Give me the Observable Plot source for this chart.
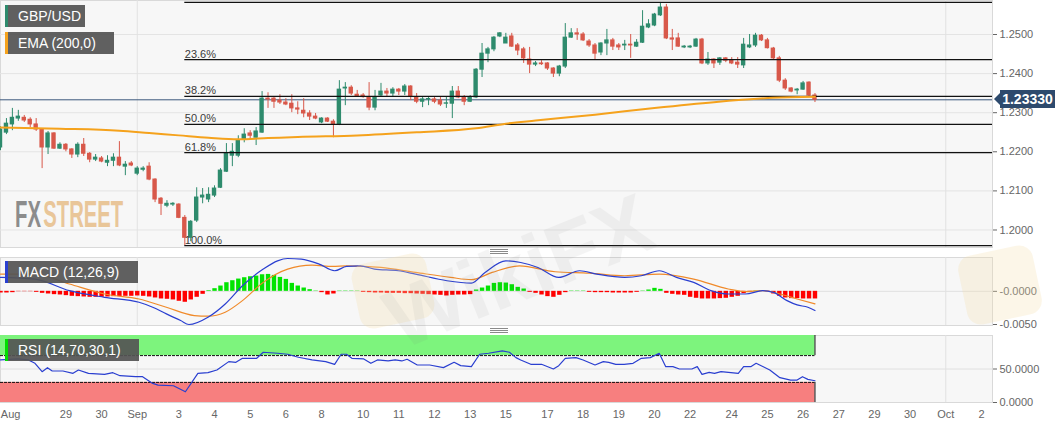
<!DOCTYPE html>
<html><head><meta charset="utf-8">
<script src="https://cdn.jsdelivr.net/npm/d3@7"></script>
<script src="https://cdn.jsdelivr.net/npm/@observablehq/plot@0.6"></script>
<style>
body{margin:0;background:#fff;font-family:"Liberation Sans",Arial,sans-serif;}
#wrap{position:relative;width:1063px;height:429px;overflow:hidden;background:#fff;}
.panel{position:absolute;left:0;}
.tag{position:absolute;left:5px;height:22px;line-height:22px;background:rgba(84,84,84,0.93);color:#fff;font-size:14px;padding-left:13px;box-sizing:border-box;white-space:nowrap;}
.tag i{position:absolute;left:0;top:0;bottom:0;width:3px;}
.handle{position:absolute;width:18px;height:1px;background:#8a8a8a;box-shadow:0 2px 0 #8a8a8a,0 4px 0 #8a8a8a;}
#price{position:absolute;left:1000px;width:55px;height:18px;line-height:18px;background:#2d4a6d;color:#fff;font-weight:bold;font-size:14px;text-align:center;}
#price:before{content:"";position:absolute;left:-6px;top:3px;border-top:6px solid transparent;border-bottom:6px solid transparent;border-right:6px solid #2d4a6d;}
</style></head>
<body><div id="wrap"></div>
<script>
// ---------- data (4-hour candles, index 0 = first visible) ----------
const candleOpen = [
1.2211,1.2249,1.2270,1.2285,1.2287,1.2282,1.2270,1.2257,1.2211,1.2247,
1.2208,1.2218,1.2206,1.2193,1.2218,1.2195,1.2180,1.2183,1.2172,1.2177,
1.2185,1.2162,1.2170,1.2144,1.2154,1.2162,1.2129,1.2080,1.2062,1.2065,
1.2065,1.2031,1.1980,1.2024,1.2083,1.2078,1.2088,1.2108,1.2149,1.2190,
1.2190,1.2231,1.2247,1.2236,1.2249,1.2336,1.2336,1.2331,1.2326,1.2323,
1.2311,1.2305,1.2298,1.2290,1.2275,1.2285,1.2277,1.2270,1.2362,1.2364,
1.2346,1.2344,1.2339,1.2313,1.2344,1.2354,1.2349,1.2359,1.2354,1.2367,
1.2339,1.2328,1.2334,1.2334,1.2331,1.2323,1.2323,1.2354,1.2339,1.2328,
1.2339,1.2410,1.2451,1.2462,1.2495,1.2477,1.2495,1.2472,1.2462,1.2436,
1.2423,1.2426,1.2426,1.2413,1.2400,1.2418,1.2492,1.2503,1.2500,1.2482,
1.2472,1.2454,1.2477,1.2485,1.2472,1.2472,1.2474,1.2469,1.2479,1.2518,
1.2523,1.2549,1.2569,1.2490,1.2490,1.2467,1.2467,1.2469,1.2487,1.2426,
1.2436,1.2428,1.2439,1.2433,1.2428,1.2421,1.2467,1.2472,1.2497,1.2485,
1.2464,1.2439,1.2382,1.2362,1.2357,1.2359,1.2377,1.2344];
const candleHigh = [
1.2264,1.2285,1.2311,1.2306,1.2293,1.2287,1.2285,1.2259,1.2252,1.2249,
1.2223,1.2221,1.2208,1.2223,1.2234,1.2198,1.2193,1.2188,1.2190,1.2195,
1.2226,1.2175,1.2175,1.2162,1.2162,1.2172,1.2131,1.2083,1.2075,1.2070,
1.2067,1.2037,1.2024,1.2108,1.2106,1.2108,1.2113,1.2157,1.2221,1.2221,
1.2241,1.2259,1.2254,1.2262,1.2354,1.2351,1.2341,1.2346,1.2336,1.2346,
1.2328,1.2336,1.2305,1.2298,1.2287,1.2287,1.2282,1.2382,1.2377,1.2369,
1.2357,1.2349,1.2377,1.2357,1.2375,1.2362,1.2364,1.2362,1.2372,1.2369,
1.2349,1.2339,1.2339,1.2339,1.2339,1.2339,1.2367,1.2367,1.2344,1.2344,
1.2413,1.2477,1.2467,1.2495,1.2505,1.2503,1.2503,1.2477,1.2467,1.2467,
1.2431,1.2433,1.2428,1.2415,1.2421,1.2528,1.2515,1.2515,1.2505,1.2487,
1.2477,1.2479,1.2513,1.2490,1.2477,1.2485,1.2500,1.2487,1.2561,1.2538,
1.2554,1.2582,1.2577,1.2513,1.2503,1.2472,1.2472,1.2490,1.2490,1.2454,
1.2438,1.2441,1.2441,1.2441,1.2441,1.2490,1.2500,1.2503,1.2500,1.2490,
1.2467,1.2444,1.2387,1.2364,1.2362,1.2380,1.2379,1.2349];
const candleLow = [
1.2203,1.2244,1.2254,1.2278,1.2275,1.2262,1.2252,1.2157,1.2193,1.2206,
1.2206,1.2200,1.2183,1.2185,1.2188,1.2172,1.2175,1.2172,1.2162,1.2162,
1.2162,1.2139,1.2162,1.2139,1.2149,1.2126,1.2070,1.2037,1.2057,1.2060,
1.2029,1.1960,1.1970,1.2019,1.2067,1.2070,1.2083,1.2106,1.2147,1.2162,
1.2185,1.2223,1.2229,1.2216,1.2247,1.2311,1.2311,1.2321,1.2318,1.2300,
1.2295,1.2287,1.2280,1.2282,1.2272,1.2275,1.2236,1.2267,1.2318,1.2344,
1.2339,1.2337,1.2305,1.2305,1.2339,1.2339,1.2339,1.2344,1.2344,1.2331,
1.2323,1.2313,1.2318,1.2323,1.2316,1.2311,1.2285,1.2336,1.2318,1.2326,
1.2336,1.2390,1.2428,1.2456,1.2492,1.2477,1.2467,1.2446,1.2426,1.2400,
1.2418,1.2421,1.2408,1.2390,1.2392,1.2413,1.2490,1.2485,1.2482,1.2467,
1.2436,1.2446,1.2446,1.2459,1.2459,1.2459,1.2439,1.2467,1.2477,1.2515,
1.2520,1.2546,1.2487,1.2459,1.2467,1.2464,1.2464,1.2467,1.2423,1.2421,
1.2413,1.2421,1.2428,1.2423,1.2413,1.2413,1.2464,1.2467,1.2482,1.2463,
1.2436,1.2377,1.2357,1.2351,1.2346,1.2357,1.2341,1.2326];
const candleClose = [
1.2257,1.2272,1.2287,1.2290,1.2280,1.2270,1.2257,1.2211,1.2247,1.2208,
1.2218,1.2206,1.2193,1.2218,1.2195,1.2180,1.2185,1.2175,1.2177,1.2185,
1.2165,1.2167,1.2165,1.2157,1.2157,1.2129,1.2078,1.2067,1.2067,1.2067,
1.2031,1.1980,1.2021,1.2083,1.2088,1.2090,1.2106,1.2152,1.2195,1.2200,
1.2229,1.2244,1.2241,1.2252,1.2336,1.2334,1.2328,1.2326,1.2321,1.2311,
1.2308,1.2298,1.2290,1.2285,1.2285,1.2277,1.2270,1.2359,1.2364,1.2349,
1.2341,1.2340,1.2313,1.2339,1.2354,1.2349,1.2359,1.2354,1.2367,1.2341,
1.2328,1.2334,1.2335,1.2328,1.2321,1.2324,1.2354,1.2339,1.2328,1.2339,
1.2410,1.2451,1.2462,1.2492,1.2503,1.2492,1.2469,1.2459,1.2439,1.2423,
1.2426,1.2424,1.2413,1.2400,1.2418,1.2492,1.2503,1.2500,1.2485,1.2472,
1.2451,1.2477,1.2485,1.2469,1.2467,1.2474,1.2472,1.2479,1.2520,1.2526,
1.2551,1.2569,1.2490,1.2487,1.2469,1.2469,1.2469,1.2487,1.2426,1.2436,
1.2426,1.2439,1.2433,1.2426,1.2423,1.2474,1.2472,1.2497,1.2485,1.2465,
1.2439,1.2382,1.2362,1.2354,1.2359,1.2375,1.2344,1.2333];

// EMA(200) read at sample candles
const emaIdx = [0,10,20,25,30,35,40,45,50,60,70,80,85,90,100,110,120,130,137];
const emaVal = [1.2262,1.2259,1.2254,1.2248,1.2242,1.2236,1.2232,1.2235,1.2238,1.2242,1.2250,1.2260,1.2272,1.2280,1.2295,1.2312,1.2327,1.2338,1.2341];

// Fibonacci retracement
const fibNames  = ["0.0%","23.6%","38.2%","50.0%","61.8%","100.0%"];
const fibLevels = [1.2582,1.2436,1.2342,1.2270,1.2198,1.1960];
const fibStartIdx = 31;

const priceTicks = [1.20,1.21,1.22,1.23,1.24,1.25];

// x-axis labels (candle index where each label sits)
const tickLabels = ["Aug","29","30","Sep","3","4","5","6","8","10","11","12","13","15","17","18","19","20","22","24","25","26","27","29","30","Oct","2"];
const tickIdx    = [1.7,11,17,23,30,36,42,48,54,61,67,73,79,85,92,98,104,110,116,123,129,135,141,147,153,159,165];
const monthIdx   = [23,159];

// MACD (12,26,9)
const macdHist = [
-0.00025,-0.00025,-0.0002,-0.00005,-0.00005,-0.00005,-0.00015,-0.0003,-0.0004,-0.0005,
-0.00055,-0.00065,-0.00075,-0.0008,-0.00085,-0.0009,-0.0009,-0.0009,-0.00085,-0.0008,
-0.0008,-0.00075,-0.00075,-0.0007,-0.00075,-0.00085,-0.001,-0.00115,-0.0012,-0.0013,
-0.0015,-0.00165,-0.0013,-0.0009,-0.00045,0.0001,0.0004,0.0008,0.0013,0.0016,
0.00185,0.00205,0.0022,0.0023,0.0025,0.00255,0.0024,0.0021,0.0018,0.0012,
0.0008,0.0005,0.00025,0.00005,-0.0002,-0.00055,-0.0004,0.00005,0.00005,0.00005,
0.00005,-0.00015,-0.0002,-0.00025,-0.00025,-0.0003,-0.0003,-0.0003,-0.00035,-0.00035,
-0.0004,-0.00045,-0.0005,-0.00055,-0.0006,-0.0007,-0.0006,-0.00055,-0.00055,-0.0005,
0.0002,0.0005,0.0008,0.0012,0.0013,0.00125,0.001,0.0006,0.00035,-0.00015,
-0.0003,-0.00055,-0.0008,-0.0009,-0.0006,-0.0002,0.00005,0.00005,0.00005,-0.00015,
-0.0002,-0.0002,-0.0002,-0.00025,-0.00025,-0.00025,-0.00025,-0.00015,0.00005,0.0002,
0.00045,0.0003,-0.0003,-0.00045,-0.00055,-0.0006,-0.0009,-0.00105,-0.00115,-0.00115,
-0.00115,-0.0011,-0.00105,-0.0009,-0.00075,-0.00035,-0.00015,0.00005,0.00005,-0.00005,
-0.0004,-0.00075,-0.001,-0.0011,-0.0011,-0.00115,-0.00115,-0.00115];
const macdIdx = [0,5.8,11.6,17.5,23.3,25.6,27.9,30.3,31.7,34.9,37.8,40.7,44.2,46.6,48.3,50.6,53.6,56.2,58.2,60.5,62.9,66.9,69.8,75.1,79.2,81.5,85,87.5,90.4,93.9,97.4,100.3,105,107.8,110.8,113.7,116.6,119.5,122.4,125.3,128.2,130,132.3,134,135.8,137];
const macdVal = [0.0021,0.00185,0.0001,-0.0009,-0.00165,-0.0024,-0.0034,-0.0044,-0.0050,-0.0039,-0.0019,0.00085,0.00335,0.0046,0.00495,0.00485,0.0041,0.0031,0.00375,0.00385,0.00335,0.0031,0.0026,0.0016,0.00125,0.00285,0.0046,0.00435,0.0036,0.0021,0.0031,0.0026,0.0021,0.00235,0.0031,0.0021,0.00135,0.0001,-0.0004,-0.0004,0.0001,-0.00015,-0.0014,-0.00205,-0.0024,-0.0029];
const sigIdx = [0,5.8,11.6,17.5,23.3,27.9,32.6,34.9,37.8,40.7,44.2,48.3,52.4,55.9,58.2,64,69.8,75.7,79.2,82.7,87.3,93.3,99.1,105,110.8,116.6,122.4,125.3,128.2,131.1,134,137];
const sigVal = [0.0026,0.0026,0.0011,-0.0004,-0.00115,-0.0024,-0.00365,-0.00375,-0.00315,-0.0014,0.00135,0.00335,0.00395,0.00375,0.00385,0.0036,0.00285,0.0021,0.00175,0.00285,0.00385,0.00295,0.00275,0.00235,0.0026,0.00185,0.00035,-0.00005,0.0001,-0.0004,-0.00115,-0.0019];
const macdTicks = [0,-0.005];
const macdTickLabels = ["-0.0000","-0.0050"];

// RSI (14,70,30,1)
const rsiIdx = [0,2.9,4.7,5.8,7,7.9,8.7,10.5,12.2,13.1,14.8,17.5,18.9,20.1,22.7,23.9,25.6,26.5,29.1,31.1,33.2,34.9,36.4,38.4,39.6,40.7,43.1,44.2,46.6,48.3,50.1,52.4,54.7,56.2,57.3,58.2,59.1,61.1,62.3,63.4,65.2,66.4,67.5,68.4,70.1,72.2,74.5,76.3,77.4,79.2,80.6,82.1,84.4,85.6,86.7,87.5,89.2,91,93,93.9,95,96.8,98,100,101.4,102.3,103.5,104.9,106.4,107.8,109.3,110.8,111.9,113.1,114.2,116.3,117.2,118,119.2,120.1,121.2,124.1,125,126.2,127.1,129.4,131.1,132.9,134,134.9,135.8,137];
const rsiVal = [63.5,65,63.5,58.5,46,52,47,47,43.5,48.5,43.5,42,44.5,40,38.5,38.5,28.5,26,25,16,43.5,44.5,48.5,61,60,66,66,75,73.5,72,67.5,63.5,61,57,72,72,66,65,58.5,63.5,62,63.5,62,64.5,56,56,52,60,55,53.5,72,73.5,77,75,67,63.5,57,57,50,55,66,67,63.5,56,61,60,57,57,58.5,66,67,73.5,53.5,53.5,50,50,53.5,42,45,43.5,46,43.5,53.5,53.5,58.5,48.5,37,33.5,33.5,38.5,34.5,32.5];
const rsiTicks = [0,50];
const rsiTickLabels = ["0.0000","50.0000"];
const rsiUpper = 70, rsiLower = 30;

// ---------- build ----------
const G = "#2e8b6d", R = "#d8584a";
const xMax = 166.86;
const lastIdx = candleClose.length - 1;
const lastClose = candleClose[lastIdx];
const candles = candleClose.map((c, i) => ({i, o: candleOpen[i], h: candleHigh[i], l: candleLow[i], c}));
const col = d => d.c >= d.o ? G : R;
const ema = emaIdx.map((i, k) => ({i, v: emaVal[k]}));
const macd = macdIdx.map((i, k) => ({i, v: macdVal[k]}));
const sig = sigIdx.map((i, k) => ({i, v: sigVal[k]}));
const hist = macdHist.map((v, i) => ({i, v}));
const rsi = rsiIdx.map((i, k) => ({i, v: rsiVal[k]}));
const tickMap = new Map(tickIdx.map((t, k) => [t, tickLabels[k]]));

const common = {
  width: 1063, marginLeft: 0, marginRight: 71,
  style: {fontFamily: "'Liberation Sans', Arial, sans-serif", fontSize: "11px", color: "#666", background: "transparent", overflow: "visible"}
};
const bg = {fill: "#f7f7f7", stroke: "#d9d9d9"};

const main = Plot.plot({
  ...common, height: 248, marginTop: 0, marginBottom: 1,
  x: {domain: [0, xMax], axis: null},
  y: {domain: [1.19552, 1.2587], axis: "right", ticks: priceTicks, tickFormat: d3.format(".4f"), tickSize: 4, tickPadding: 3, label: null},
  marks: [
    Plot.frame(bg),
    Plot.ruleY(priceTicks, {stroke: "#e4e4e4"}),
    Plot.ruleX(monthIdx, {stroke: "#e2e2e2"}),
    Plot.ruleY([lastClose], {stroke: "#3b587c", strokeWidth: 1}),
    Plot.ruleX(candles, {x: "i", y1: "l", y2: "h", stroke: col, strokeWidth: 1}),
    Plot.rect(candles, {x1: d => d.i - 0.37, x2: d => d.i + 0.37, y1: "o", y2: "c", fill: col, insetTop: -0.5, insetBottom: -0.5}),
    Plot.ruleY(fibLevels, {y: d => d, x1: fibStartIdx, x2: xMax, stroke: "#111", strokeWidth: 1.2}),
    Plot.text(fibLevels, {x: fibStartIdx, y: d => d, text: (d, k) => fibNames[k], textAnchor: "start", lineAnchor: "bottom", dy: -2, dx: 0, fill: "#3a3a3a", fontSize: 11}),
    Plot.line(ema, {x: "i", y: "v", stroke: "#f5a21c", strokeWidth: 2, curve: "monotone-x"})
  ]
});

const macdChart = Plot.plot({
  ...common, height: 70, marginTop: 1, marginBottom: 1,
  x: {domain: [0, xMax], axis: null},
  y: {domain: [-0.00515, 0.0051], axis: "right", ticks: macdTicks, tickFormat: v => macdTickLabels[macdTicks.indexOf(v)], tickSize: 4, tickPadding: 3, label: null},
  marks: [
    Plot.frame(bg),
    Plot.ruleY([0], {stroke: "#e0e0e0"}),
    Plot.ruleX(monthIdx, {stroke: "#e2e2e2"}),
    Plot.ruleX(hist, {x: "i", y1: 0, y2: "v", stroke: d => d.v >= 0 ? "#00e400" : "#ff0000", strokeWidth: 4.4}),
    Plot.line(sig, {x: "i", y: "v", stroke: "#f08a2a", strokeWidth: 1.2, curve: "monotone-x"}),
    Plot.line(macd, {x: "i", y: "v", stroke: "#2a3fd0", strokeWidth: 1.2, curve: "monotone-x"})
  ]
});

const rsiChart = Plot.plot({
  ...common, height: 95, marginTop: 1, marginBottom: 27,
  x: {domain: [0, xMax], ticks: tickIdx, tickFormat: d => tickMap.get(d), tickSize: 0, tickPadding: 8, label: null},
  y: {domain: [0, 100], axis: "right", ticks: rsiTicks, tickFormat: v => rsiTickLabels[rsiTicks.indexOf(v)], tickSize: 4, tickPadding: 3, label: null},
  marks: [
    Plot.frame(bg),
    Plot.ruleY([50], {stroke: "#e0e0e0"}),
    Plot.ruleX(monthIdx, {stroke: "#e2e2e2"}),
    Plot.rect([0], {x1: 0, x2: lastIdx, y1: rsiUpper, y2: 100, fill: "#7df47d"}),
    Plot.rect([0], {x1: 0, x2: lastIdx, y1: 0, y2: rsiLower, fill: "#f77f7f"}),
    Plot.ruleY([rsiUpper, rsiLower], {x1: 0, x2: lastIdx, stroke: "#111", strokeDasharray: "3,1"}),
    Plot.ruleX([lastIdx], {y1: rsiUpper, y2: 100, stroke: "#111"}),
    Plot.ruleX([lastIdx], {y1: 0, y2: rsiLower, stroke: "#111"}),
    Plot.line(rsi, {x: "i", y: "v", stroke: "#2a3fd0", strokeWidth: 1.2})
  ]
});

const wrap = document.getElementById("wrap");
function place(node, top) { const d = document.createElement("div"); d.className = "panel"; d.style.top = top + "px"; d.appendChild(node); wrap.appendChild(d); return d; }
place(main, 0);
place(macdChart, 256);
place(rsiChart, 334);

// watermarks
const wm = document.createElement("div");
wm.style.cssText = "position:absolute;left:0;top:0;pointer-events:none";
wm.innerHTML = `<svg width="1063" height="429" xmlns="http://www.w3.org/2000/svg">
 <rect x="355" y="258" width="76" height="66" rx="14" fill="#f3dfae" opacity="0.28" transform="rotate(-12 393 291)"/>
 <rect x="962" y="250" width="76" height="70" rx="14" fill="#f3dfae" opacity="0.28" transform="rotate(-12 1000 285)"/>
 <text x="530" y="298" font-size="84" font-weight="bold" font-family="Liberation Sans, Arial" fill="#777" opacity="0.07" text-anchor="middle" transform="rotate(-22 530 298)">WikiFX</text>
 <g transform="translate(14,227) scale(0.78,1.4)" font-size="26" font-weight="bold" font-family="Liberation Sans, Arial">
  <text x="1.3" y="0" fill="#8c8c8c">FX</text>
  <text x="37.5" y="0" fill="#e9c699">STREET</text>
 </g>
</svg>`;
wrap.appendChild(wm);

// legend tags
function tag(text, color, top, width) {
  const t = document.createElement("div"); t.className = "tag";
  t.style.top = top + "px"; t.style.width = width + "px";
  t.innerHTML = `<i style="background:${color}"></i>` + text;
  wrap.appendChild(t);
}
tag("GBP/USD", "#2e8b6d", 5, 80);
tag("EMA (200,0)", "#f5a21c", 32, 109);
tag("MACD (12,26,9)", "#2a3fd0", 261, 133);
tag("RSI (14,70,30,1)", "#00dd00", 339, 134);

// panel handles
[[490, 249], [490, 328]].forEach(([l, t]) => { const h = document.createElement("div"); h.className = "handle"; h.style.left = l + "px"; h.style.top = t + "px"; wrap.appendChild(h); });

// last price label
const yMain = main.scale("y");
const pl = document.createElement("div"); pl.id = "price";
pl.style.top = (yMain.apply(lastClose) - 9) + "px";
pl.textContent = d3.format(".5f")(lastClose);
wrap.appendChild(pl);
</script>
</body></html>
